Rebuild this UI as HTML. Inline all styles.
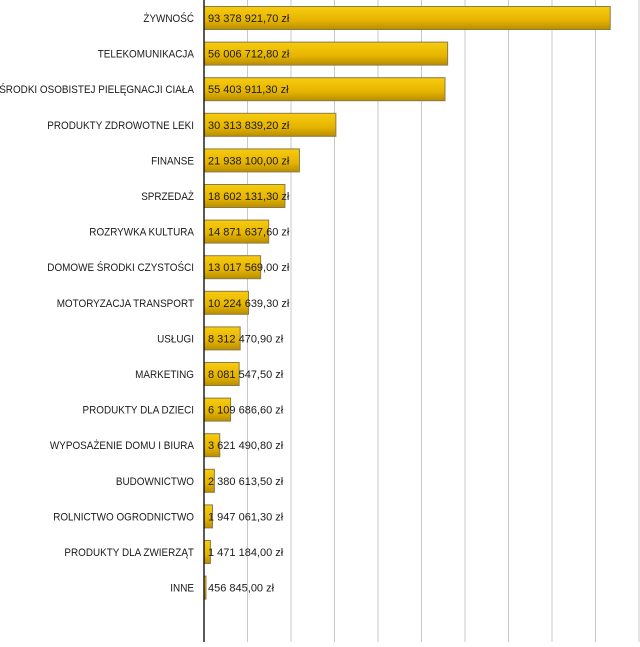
<!DOCTYPE html>
<html><head><meta charset="utf-8"><style>
body{margin:0;background:#fff;}
svg text{font-family:"Liberation Sans",sans-serif;font-size:11px;fill:#1a1a1a;}
</style></head><body>
<svg id="c" width="640" height="642">
<defs><linearGradient id="g" x1="0" y1="0" x2="0" y2="1"><stop offset="0" stop-color="#f7cc10"/><stop offset="0.6" stop-color="#e6b400"/><stop offset="1" stop-color="#b88e00"/></linearGradient></defs>
</svg>
<script>
const categories=["ŻYWNOŚĆ","TELEKOMUNIKACJA","ŚRODKI OSOBISTEJ PIELĘGNACJI CIAŁA","PRODUKTY ZDROWOTNE LEKI","FINANSE","SPRZEDAŻ","ROZRYWKA KULTURA","DOMOWE ŚRODKI CZYSTOŚCI","MOTORYZACJA TRANSPORT","USŁUGI","MARKETING","PRODUKTY DLA DZIECI","WYPOSAŻENIE DOMU I BIURA","BUDOWNICTWO","ROLNICTWO OGRODNICTWO","PRODUKTY DLA ZWIERZĄT","INNE"];
const values=[93378921.70,56006712.80,55403911.30,30313839.20,21938100.00,18602131.30,14871637.60,13017569.00,10224639.30,8312470.90,8081547.50,6109686.60,3621490.80,2380613.50,1947061.30,1471184.00,456845.00];
const ticks=[10,20,30,40,50,60,70,80,90,100];
const svg=document.getElementById('c');
const NS='http://www.w3.org/2000/svg';
const x0=204, pxPerM=4.35;
const xs=v=>x0+v/1e6*pxPerM;
const ys=i=>18+i*35.6;
function mk(t,a){const e=document.createElementNS(NS,t);for(const k in a)e.setAttribute(k,a[k]);svg.appendChild(e);return e;}
function fmt(v){let [i,d]=v.toFixed(2).split('.');i=i.replace(/\B(?=(\d{3})+(?!\d))/g,' ');return i+','+d+' zł';}
ticks.forEach(t=>{const l=mk('line',{x1:xs(t*1e6),x2:xs(t*1e6),y1:0,y2:642,stroke:'#c8c8c8','stroke-width':1});

});
values.forEach((v,i)=>{
 const y=ys(i);
 const r=mk('rect',{x:x0,y:y-11.5,width:Math.max(xs(v)-x0,2),height:23,fill:'url(#g)',stroke:'#8c7a46','stroke-width':1});
 
 
 const c=mk('text',{x:194,y:y+4,'text-anchor':'end'});c.textContent=categories[i];
 
 
 const w=c.getComputedTextLength();
 c.setAttribute('textLength',(w*0.9).toFixed(1));
 c.setAttribute('lengthAdjust','spacingAndGlyphs');
 const t=mk('text',{x:x0+4,y:y+4});t.textContent=fmt(v);
 
 
});
const ax=mk('line',{x1:x0,x2:x0,y1:0,y2:642,stroke:'#000','stroke-width':1.3});


</script>
</body></html>
